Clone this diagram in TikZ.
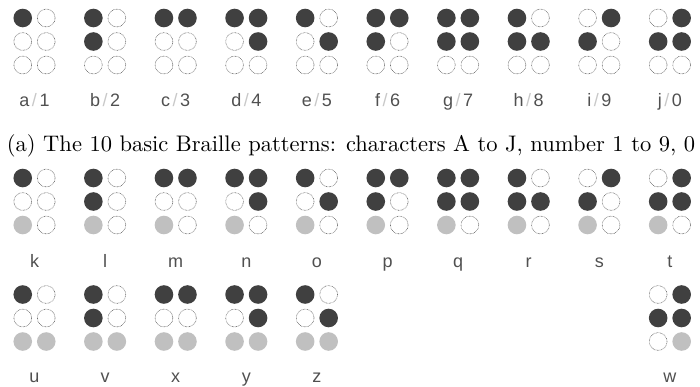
\documentclass[tikz,border=0pt]{standalone}
\usepackage{fontspec}
\newfontfamily\lblfont{Liberation Sans}
\usetikzlibrary{positioning}

\definecolor{dotdark}{HTML}{404040}
\definecolor{dotlight}{HTML}{C0C0C0}
\definecolor{dotrim}{HTML}{606060}
\definecolor{lbltext}{HTML}{505050}
\definecolor{slashgray}{HTML}{C8C8C8}

% one braille cell: centre x, top-row y, name, six dots (0 empty, 1 raised, 2 grey)
\newcommand{\brlcell}[4]{%
  \edef\brllist{#4}%
  \foreach \s [count=\k] in \brllist {
    \pgfmathtruncatemacro{\col}{(\k-1)/3}
    \pgfmathtruncatemacro{\row}{mod(\k-1,3)}
    \node[brl\s] (#3-\k) at ({#1-11.75+23.5*\col}, {#2+23.5*\row}) {};
  }%
}

\begin{document}
\begin{tikzpicture}[x=1pt, y=-1pt,
  brlbase/.style={circle, inner sep=0pt, minimum size=18.6pt},
  brl0/.style={brlbase, draw=dotrim, line width=0.6pt, dash pattern=on 0.6pt off 0.8pt, minimum size=17.8pt},
  brl1/.style={brlbase, fill=dotdark},
  brl2/.style={brlbase, fill=dotlight},
  lbl/.style={font=\lblfont\fontsize{18}{20}\selectfont, text=lbltext, anchor=base, inner sep=0pt},
  caption/.style={anchor=base, inner sep=0pt},
]
\useasboundingbox (0,0) rectangle (700,386);

% === Row 1: a--j / 1--0 ===
\foreach \nm/\num/\pat [count=\i from 0] in {
    a/1/{1,0,0,0,0,0}, b/2/{1,1,0,0,0,0}, c/3/{1,0,0,1,0,0}, d/4/{1,0,0,1,1,0},
    e/5/{1,0,0,0,1,0}, f/6/{1,1,0,1,0,0}, g/7/{1,1,0,1,1,0}, h/8/{1,1,0,0,1,0},
    i/9/{0,1,0,1,0,0}, j/0/{0,1,0,1,1,0}} {
  \pgfmathsetmacro{\cx}{34.5+70.6*\i}
  \brlcell{\cx}{18}{\nm}{\pat}
  \node[lbl] (lbl-\nm) at (\cx, 106) {\nm\hspace{2.5pt}{\color{slashgray}/}\hspace{2.5pt}\num};
}

\node[caption] (cap) at (351, 151.5)
  {\resizebox{688pt}{!}{(a) The 10 basic Braille patterns: characters A to J, number 1 to 9, 0}};

% === Row 2: k--t ===
\foreach \nm/\pat [count=\i from 0] in {
    k/{1,0,2,0,0,0}, l/{1,1,2,0,0,0}, m/{1,0,2,1,0,0}, n/{1,0,2,1,1,0},
    o/{1,0,2,0,1,0}, p/{1,1,2,1,0,0}, q/{1,1,2,1,1,0}, r/{1,1,2,0,1,0},
    s/{0,1,2,1,0,0}, t/{0,1,2,1,1,0}} {
  \pgfmathsetmacro{\cx}{34.5+70.6*\i}
  \brlcell{\cx}{178}{\nm}{\pat}
  \node[lbl] (lbl-\nm) at (\cx, 267) {\nm};
}

% === Row 3: u v x y z ... w ===
\foreach \nm/\pat/\i in {
    u/{1,0,2,0,0,2}/0, v/{1,1,2,0,0,2}/1, x/{1,0,2,1,0,2}/2,
    y/{1,0,2,1,1,2}/3, z/{1,0,2,0,1,2}/4, w/{0,1,0,1,1,2}/9} {
  \pgfmathsetmacro{\cx}{34.5+70.6*\i}
  \brlcell{\cx}{294.5}{\nm}{\pat}
  \node[lbl] (lbl-\nm) at (\cx, 382) {\nm};
}

\end{tikzpicture}
\end{document}
